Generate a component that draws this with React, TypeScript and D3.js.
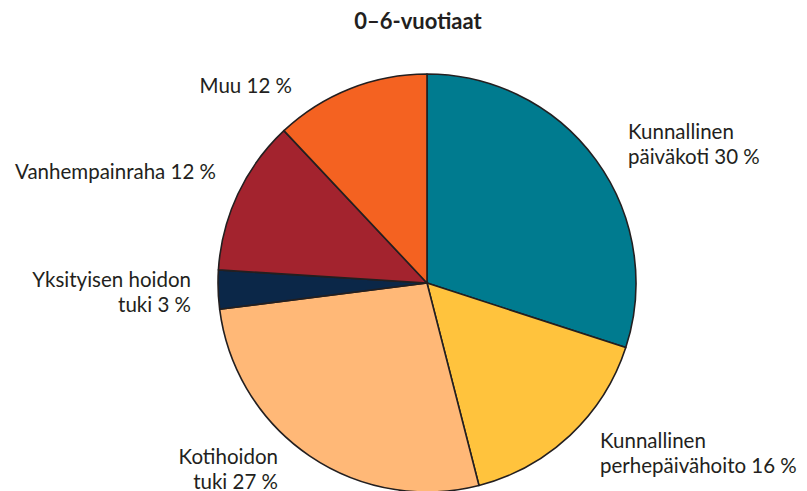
import React, { useEffect, useRef } from "react";
import * as d3 from "d3";

// slice labels, clockwise from 12 o'clock
const categories = [
  ["Kunnallinen", "päiväkoti 30 %"],
  ["Kunnallinen", "perhepäivähoito 16 %"],
  ["Kotihoidon", "tuki 27 %"],
  ["Yksityisen hoidon", "tuki 3 %"],
  ["Vanhempainraha 12 %"],
  ["Muu 12 %"],
];
const shares = [30, 16, 27, 3, 12, 12];
const colors = ["#007B8F", "#FFC33D", "#FFB877", "#0B2748", "#A3232E", "#F46221"];
const title = "0–6-vuotiaat";

// label anchors (x, first baseline, text-anchor)
const labelPos: [number, number, string][] = [
  [628, 139, "start"],
  [600, 448, "start"],
  [278, 464, "end"],
  [191, 287, "end"],
  [216, 179, "end"],
  [292, 93, "end"],
];

const W = 807;
const H = 491;

const App = () => {
  const ref = useRef<SVGSVGElement>(null);

  useEffect(() => {
    const svg = d3.select(ref.current);
    svg.selectAll("*").remove();
    const font = "'Lato', 'Open Sans', sans-serif";

    svg.append("text")
      .attr("x", 418)
      .attr("y", 29)
      .attr("text-anchor", "middle")
      .attr("font-family", font)
      .attr("font-weight", 700)
      .attr("font-size", 22)
      .attr("fill", "#231F20")
      .text(title);

    const pie = d3.pie<number>().sort(null).value(d => d);
    const arc = d3.arc<d3.PieArcDatum<number>>().innerRadius(0).outerRadius(209);

    const g = svg.append("g").attr("transform", "translate(427,283)");
    g.selectAll("path")
      .data(pie(shares))
      .enter().append("path")
      .attr("d", arc)
      .attr("fill", (d, i) => colors[i])
      .attr("stroke", "#231F20")
      .attr("stroke-width", 1.6)
      .attr("stroke-linejoin", "round");

    categories.forEach((lines, i) => {
      const [x, y, anchor] = labelPos[i];
      const t = svg.append("text")
        .attr("font-family", font)
        .attr("font-size", 20.5)
        .attr("fill", "#231F20")
        .attr("text-anchor", anchor);
      lines.forEach((line, j) => {
        t.append("tspan").attr("x", x).attr("y", y + j * 24.5).text(line);
      });
    });
  }, []);

  return (
    <svg ref={ref} width={W} height={H} style={{ position: "absolute", left: 0, top: 0 }} />
  );
};

export default App;
